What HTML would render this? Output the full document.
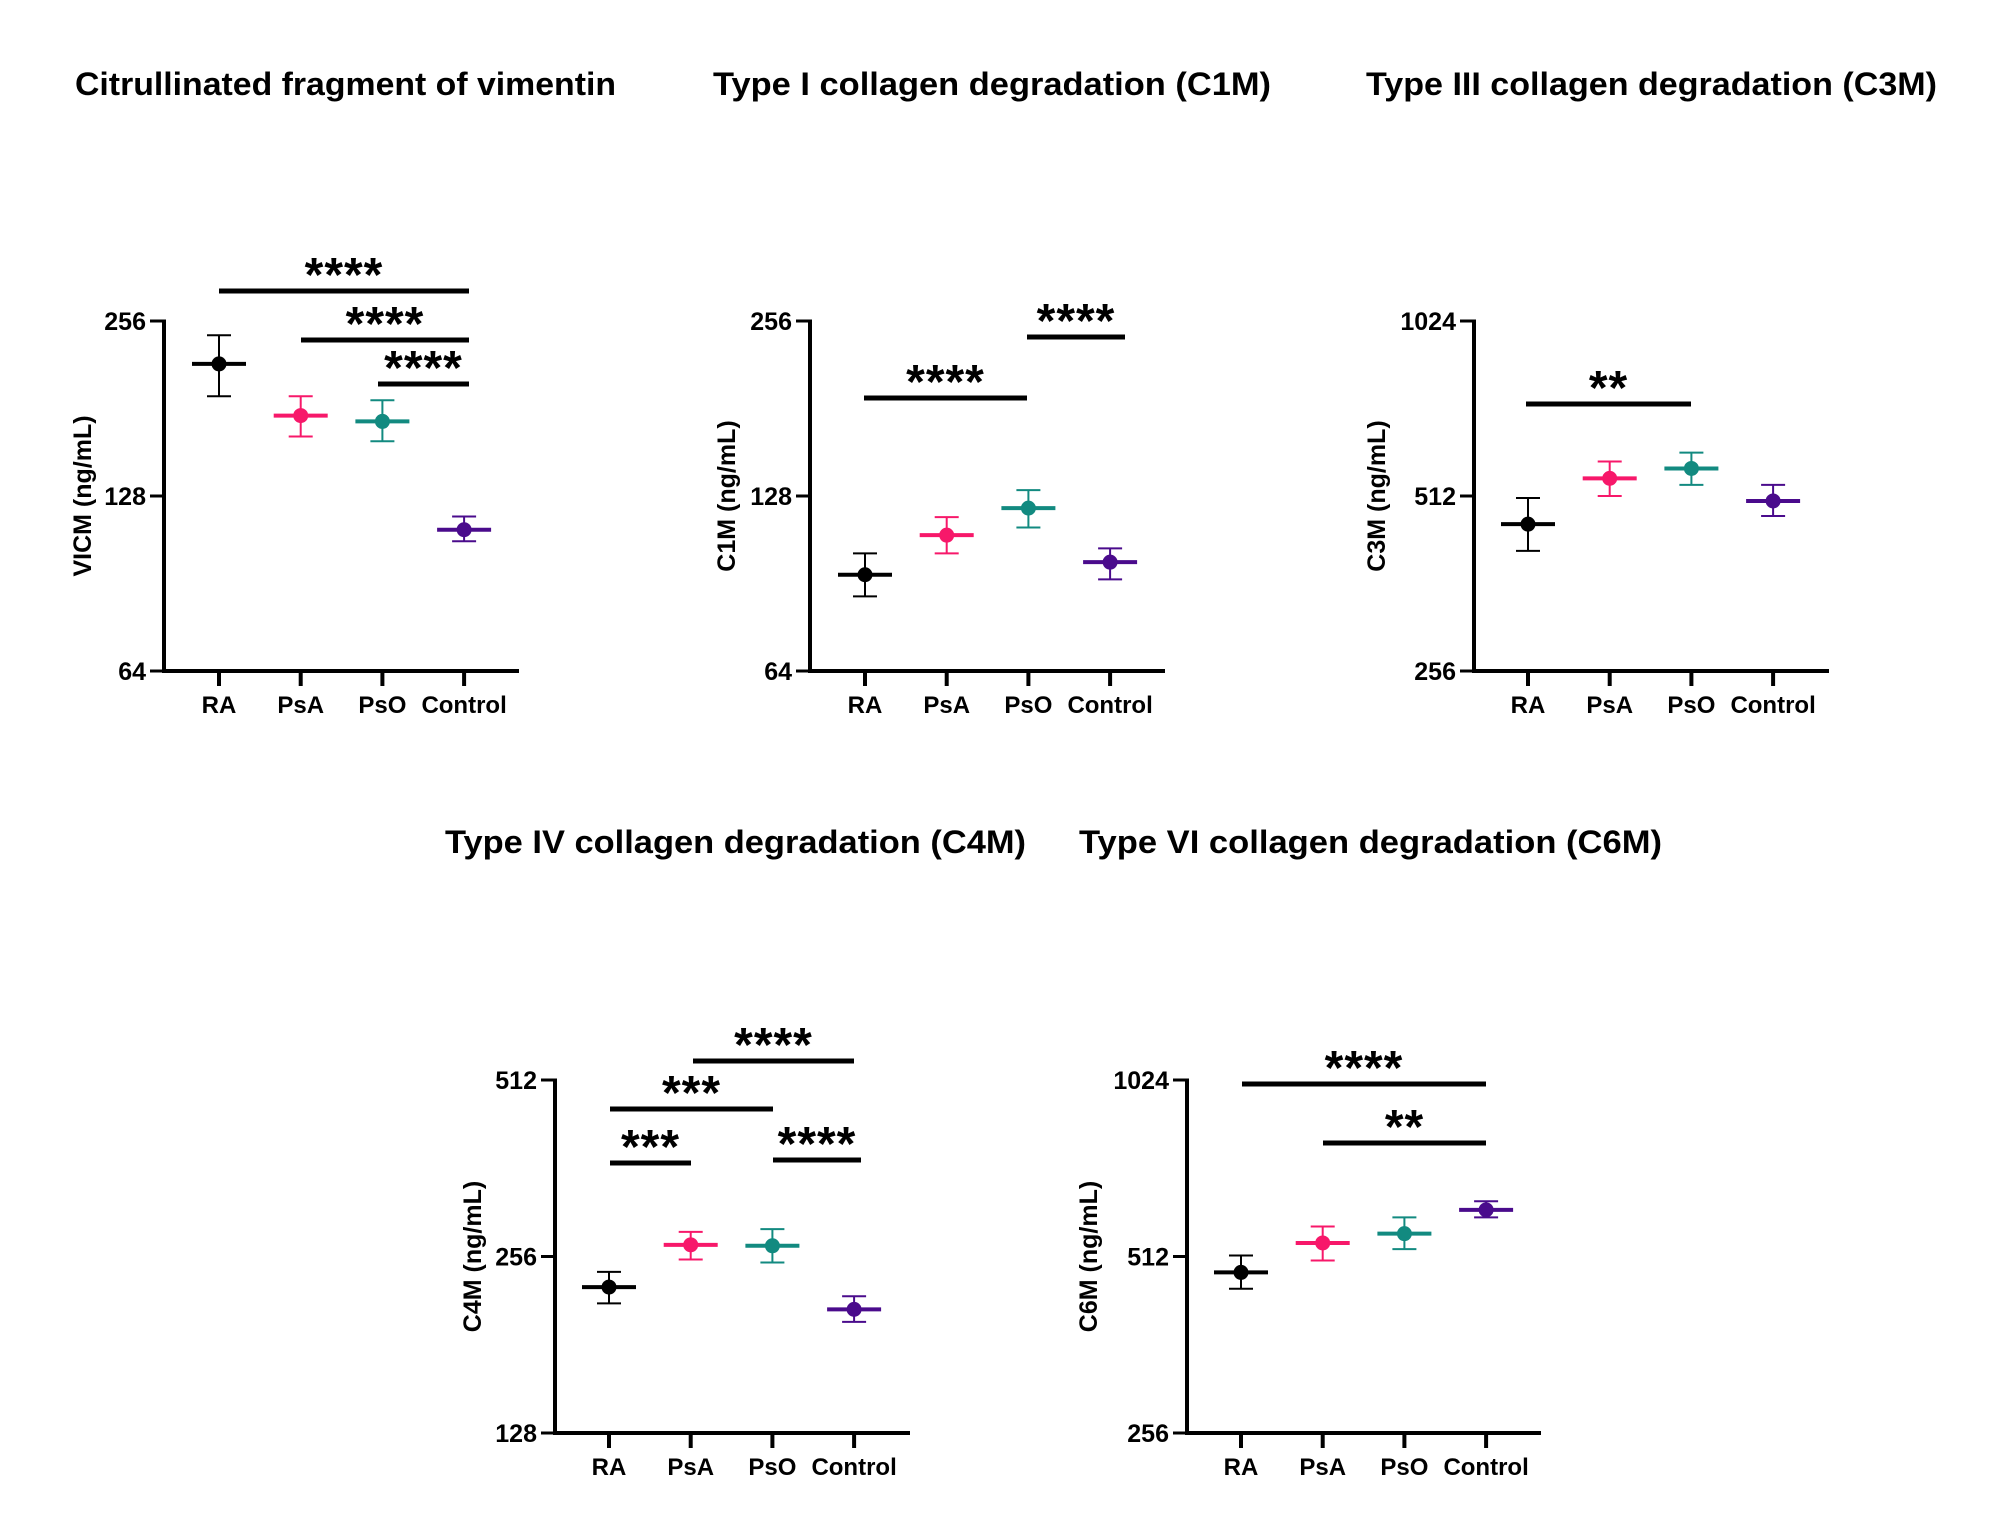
<!DOCTYPE html>
<html><head><meta charset="utf-8"><style>
html,body{margin:0;padding:0;background:#fff}
svg{display:block;font-family:"Liberation Sans",Arial,sans-serif;font-weight:bold}
</style></head><body>
<svg id="fig" width="2000" height="1539" viewBox="0 0 2000 1539" xmlns="http://www.w3.org/2000/svg"></svg>
<script>
const categories = ["RA","PsA","PsO","Control"];
const colors = ["#000000","#f7186a","#128a80","#4a0b8c"];

const vicmMean = [216,176,172,112];
const vicmUpper = [242,190,187,118];
const vicmLower = [190,162,159,107];
const vicmTicks = [64,128,256];

const c1mMean = [93.7,109.6,122,98.5];
const c1mUpper = [102,117.7,131,104];
const c1mLower = [86,102,113,92];
const c1mTicks = [64,128,256];

const c3mMean = [458,549,571,502];
const c3mUpper = [508,587,608,535];
const c3mLower = [412,512,535,473];
const c3mTicks = [256,512,1024];

const c4mMean = [227,268,267,208];
const c4mUpper = [241,282,285,219];
const c4mLower = [213,253,250,198];
const c4mTicks = [128,256,512];

const c6mMean = [481,540,560,615];
const c6mUpper = [514,576,597,636];
const c6mLower = [451,504,527,597];
const c6mTicks = [256,512,1024];

const vicmSig = [[0,3,"****"],[1,3,"****"],[2,3,"****"]];
const c1mSig = [[0,2,"****"],[2,3,"****"]];
const c3mSig = [[0,2,"**"]];
const c4mSig = [[1,3,"****"],[0,2,"***"],[0,1,"***"],[2,3,"****"]];
const c6mSig = [[0,3,"****"],[1,3,"**"]];

const NS="http://www.w3.org/2000/svg";
const svg=document.getElementById('fig');
function mk(tag,attrs,parent){const e=document.createElementNS(NS,tag);for(const k in attrs)e.setAttribute(k,attrs[k]);(parent||svg).appendChild(e);return e;}

const panels=[
 {key:'vicm',title:"Citrullinated fragment of vimentin",tx0:75,tx1:616,ty:95,ytitle:"VICM (ng/mL)",ax:164,aend:519,top:321,bottom:671,cx0:219,mean:vicmMean,up:vicmUpper,lo:vicmLower,ticks:vicmTicks,sig:vicmSig,sigY:[291,340,384],sigX:[[219,469],[301,469],[378,469]],ytOff:82},
 {key:'c1m',title:"Type I collagen degradation (C1M)",tx0:713,tx1:1271,ty:95,ytitle:"C1M (ng/mL)",ax:810,aend:1165,top:321,bottom:671,cx0:865,mean:c1mMean,up:c1mUpper,lo:c1mLower,ticks:c1mTicks,sig:c1mSig,sigY:[398,337],sigX:[[864,1027],[1027,1125]],ytOff:84},
 {key:'c3m',title:"Type III collagen degradation (C3M)",tx0:1366,tx1:1937,ty:95,ytitle:"C3M (ng/mL)",ax:1474,aend:1829,top:321,bottom:671,cx0:1528,mean:c3mMean,up:c3mUpper,lo:c3mLower,ticks:c3mTicks,sig:c3mSig,sigY:[404],sigX:[[1526,1691]],ytOff:98},
 {key:'c4m',title:"Type IV collagen degradation (C4M)",tx0:445,tx1:1026,ty:853,ytitle:"C4M (ng/mL)",ax:555,aend:910,top:1080,bottom:1433,cx0:609,mean:c4mMean,up:c4mUpper,lo:c4mLower,ticks:c4mTicks,sig:c4mSig,sigY:[1061,1109,1163,1160],sigX:[[693,854],[610,773],[610,691],[773,861]],ytOff:83},
 {key:'c6m',title:"Type VI collagen degradation (C6M)",tx0:1079,tx1:1662,ty:853,ytitle:"C6M (ng/mL)",ax:1187,aend:1541,top:1080,bottom:1433,cx0:1241,mean:c6mMean,up:c6mUpper,lo:c6mLower,ticks:c6mTicks,sig:c6mSig,sigY:[1084,1143],sigX:[[1242,1486],[1323,1486]],ytOff:99}
];

panels.forEach(p=>{
  const g=mk('g',{});
  
  
  const lmin=Math.log2(p.ticks[0]),lmax=Math.log2(p.ticks[p.ticks.length-1]);
  const y=v=>p.bottom-(Math.log2(v)-lmin)/(lmax-lmin)*(p.bottom-p.top);
  const step=81.7;
  const x=i=>p.cx0+i*step;
  const t=mk('text',{x:p.tx0,y:p.ty,'font-size':32,textLength:p.tx1-p.tx0,lengthAdjust:'spacingAndGlyphs'},g);
  t.textContent=p.title;
  
  
  const yl=mk('line',{x1:p.ax,y1:p.top-1.5,x2:p.ax,y2:p.bottom+2,stroke:'#000','stroke-width':4},g);
  
  
  const xl=mk('line',{x1:p.ax-2,y1:p.bottom,x2:p.aend,y2:p.bottom,stroke:'#000','stroke-width':4},g);
  
  
  p.ticks.forEach(tv=>{
    const ty=y(tv);
    const tk=mk('line',{x1:p.ax-14,y1:ty,x2:p.ax,y2:ty,stroke:'#000','stroke-width':3},g);
    
    
    const tl=mk('text',{x:p.ax-18,y:ty+9,'font-size':25,'text-anchor':'end'},g);
    tl.textContent=tv;
    
    
  });
  const yt=mk('text',{x:0,y:0,'font-size':25,'text-anchor':'middle',transform:`translate(${p.ax-p.ytOff+9},${(p.top+p.bottom)/2}) rotate(-90)`},g);
  yt.textContent=p.ytitle;
  
  
  categories.forEach((c,i)=>{
    const cx=x(i);
    const tk=mk('line',{x1:cx,y1:p.bottom,x2:cx,y2:p.bottom+15,stroke:'#000','stroke-width':4},g);
    
    
    const cl=mk('text',{x:cx,y:p.bottom+42,'font-size':24,'text-anchor':'middle'},g);
    cl.textContent=c;
    
    
    const col=colors[i];
    const eg=mk('g',{},g);
    
    
    mk('line',{x1:cx,y1:y(p.up[i]),x2:cx,y2:y(p.lo[i]),stroke:col,'stroke-width':2},eg);
    mk('line',{x1:cx-12,y1:y(p.up[i]),x2:cx+12,y2:y(p.up[i]),stroke:col,'stroke-width':2},eg);
    mk('line',{x1:cx-12,y1:y(p.lo[i]),x2:cx+12,y2:y(p.lo[i]),stroke:col,'stroke-width':2},eg);
    mk('line',{x1:cx-27,y1:y(p.mean[i]),x2:cx+27,y2:y(p.mean[i]),stroke:col,'stroke-width':4},eg);
    mk('circle',{cx:cx,cy:y(p.mean[i]),r:7.5,fill:col},eg);
  });
  p.sig.forEach((s,k)=>{
    const by=p.sigY[k],x1=p.sigX[k][0],x2=p.sigX[k][1];
    const b=mk('line',{x1:x1,y1:by,x2:x2,y2:by,stroke:'#000','stroke-width':5},g);
    
    
    const st=mk('text',{x:(x1+x2)/2,y:by,'font-size':48,'text-anchor':'middle','letter-spacing':1},g);
    st.textContent=s[2];
    
    
  });
});
</script>
</body></html>
